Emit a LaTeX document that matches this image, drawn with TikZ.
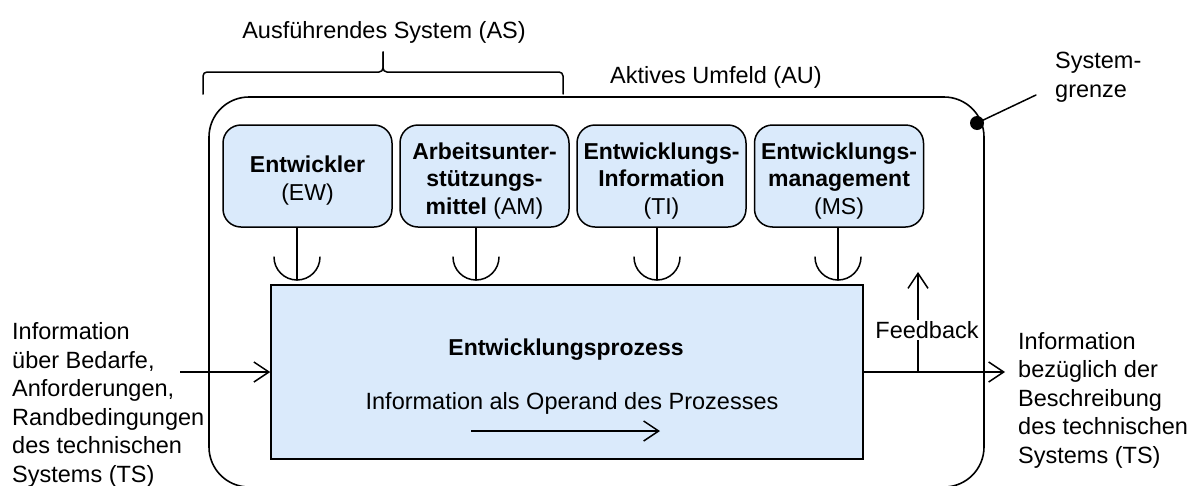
\documentclass[tikz,border=0pt]{standalone}
\usepackage{fontspec}
\setmainfont{Liberation Sans}
\usetikzlibrary{arrows.meta}
\definecolor{boxblue}{RGB}{218,234,251}
% strut that lowers the text block inside the resource boxes a little
\newcommand{\toplift}{\rule{0pt}{26pt}}
\begin{document}
\begin{tikzpicture}[x=1pt,y=-1pt,
  every node/.style={font=\fontsize{23.5}{28.5}\selectfont, inner sep=0pt},
  line/.style={line width=1.5pt, line cap=round},
  arr/.style={line width=1.5pt, -{Straight Barb[length=15pt,width=20pt,line width=1.5pt]}},
  comp/.style={draw, line width=1.5pt, fill=boxblue, rounded corners=18pt,
    minimum width=169pt, minimum height=102pt, align=center,
    font=\fontsize{23}{27.5}\selectfont},
  label/.style={align=left, anchor=west}]
\clip (0,0) rectangle (1197,485);

% system boundary (active environment)
\draw[line width=1.6pt, rounded corners=40pt] (209,97) rectangle (984,487);
\node (au) at (716,77) {Aktives Umfeld (AU)};

% boundary callout
\node[label] (grenze) at (1055,77) {System-\\grenze};
\coordinate (gline) at (1036,95);
\node[circle, fill=black, minimum size=14pt] (gdot) at (977,123) {};
\draw[line] (gdot.center) -- (gline);

% brace over the executing system
\node (as) at (384,32) {Ausführendes System (AS)};
\coordinate (bl) at (203,94);
\coordinate (br) at (563,94);
\coordinate (bt) at (383,52);
\draw[line, rounded corners=4pt] (bl) |- (383,72) -- (bt);
\draw[line, rounded corners=4pt] (br) |- (383,72) -- (bt);

% resources of the executing system
\node[comp] (ew) at (307.5,176) {\toplift\textbf{Entwickler}\\(EW)};
\node[comp] (am) at (484.5,176) {\toplift\textbf{Arbeitsunter-}\\\textbf{stützungs-}\\\textbf{mittel} (AM)};
\node[comp] (ti) at (661.5,176) {\toplift\textbf{Entwicklungs-}\\\textbf{Information}\\(TI)};
\node[comp] (ms) at (839,176) {\toplift\textbf{Entwicklungs-}\\\textbf{management}\\(MS)};

% development process
\node[draw, line width=1.5pt, fill=boxblue, minimum width=592pt, minimum height=174pt] (proc) at (567,372) {};
\node[font=\bfseries\fontsize{23}{28}\selectfont] (ptitle) at (566,350) {Entwicklungsprozess};
\node (operand) at (572,403) {Information als Operand des Prozesses};
\coordinate (opa) at (471,431);
\coordinate (opb) at (660,431);
\draw[arr] (opa) -- (opb);

% resource connectors with cups
\foreach \n/\sx in {ew/297, am/476, ti/657, ms/838} {
  \coordinate (cup\n) at (\sx,280);
  \draw[line] (cup\n |- \n.south) -- (cup\n);
  \draw[line] (\sx-23,257) .. controls (\sx-23,269.7) and (\sx-12.7,280) .. (cup\n)
              .. controls (\sx+12.7,280) and (\sx+23,269.7) .. (\sx+23,257);
}

% input
\node[label] (input) at (12,405) {Information\\über Bedarfe,\\Anforderungen,\\Randbedingungen\\des technischen\\Systems (TS)};
\coordinate (in) at (180,372);
\draw[arr] (in) -- (proc.west);

% output and feedback
\coordinate (out) at (1005,372);
\coordinate (fb) at (918,372);
\coordinate (fbtop) at (918,272);
\draw[arr] (proc.east) -- (out);
\draw[arr] (fb) -- (fbtop);
\node[fill=white, inner sep=1pt] (feedback) at (927,330) {Feedback};
\node[label] (output) at (1018,400) {Information\\bezüglich der\\Beschreibung\\des technischen\\Systems (TS)};
\end{tikzpicture}
\end{document}
